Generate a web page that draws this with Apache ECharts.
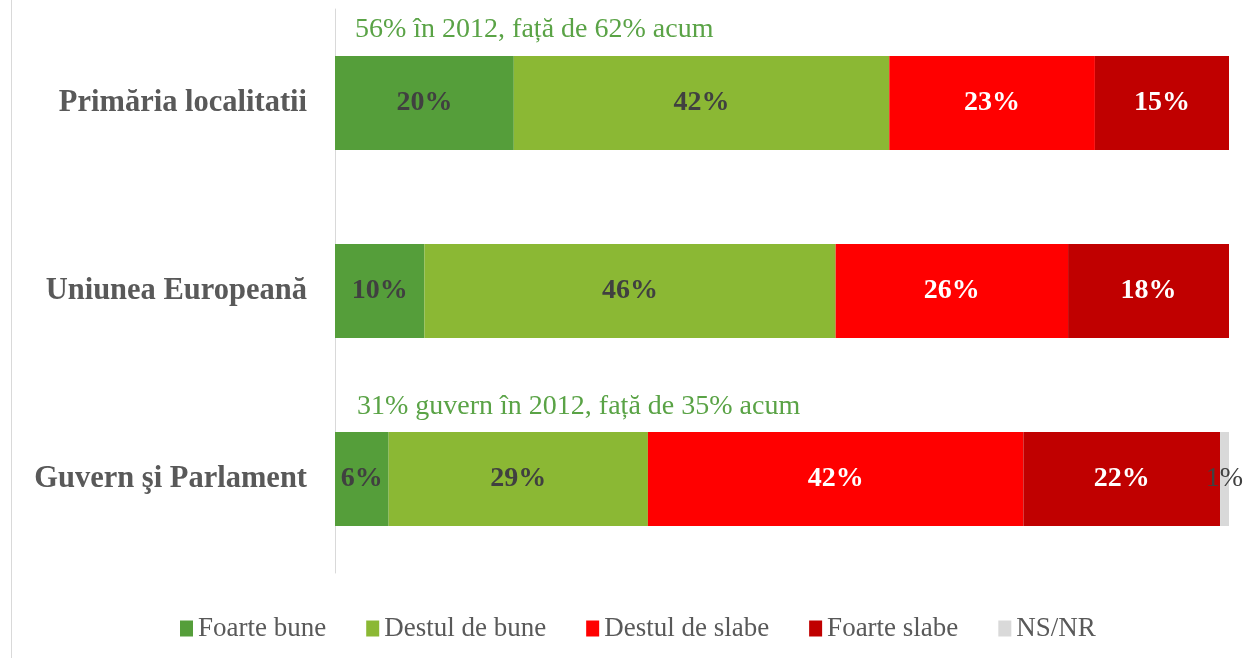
<!DOCTYPE html>
<html><head><meta charset="utf-8">
<script src="https://cdn.jsdelivr.net/npm/echarts@6/dist/echarts.min.js"></script>
<style>html,body{margin:0;padding:0;background:#fff}#c{width:1248px;height:658px}</style>
</head><body><div id="c"></div>
<script>
const categories = ['Primăria localitatii', 'Uniunea Europeană', 'Guvern şi Parlament'];
const seriesNames = ['Foarte bune', 'Destul de bune', 'Destul de slabe', 'Foarte slabe', 'NS/NR'];
const foarteBune = [20, 10, 6];
const destulBune = [42, 46, 29];
const destulSlabe = [23, 26, 42];
const foarteSlabe = [15, 18, 22];
const nsnr = [0, 0, 1];
const annotations = ['56% în 2012, față de 62% acum', '', '31% guvern în 2012, față de 35% acum'];

const colors = ['#559e3a', '#8bb834', '#ff0000', '#c00000', '#d9d9d9'];
const labelColors = ['#404040', '#404040', '#ffffff', '#ffffff', '#404040'];
const labelWeights = ['bold', 'bold', 'bold', 'bold', 'normal'];
const values = [foarteBune, destulBune, destulSlabe, foarteSlabe, nsnr];
const FONT = '"Liberation Serif", "DejaVu Serif", serif';

const chart = echarts.init(document.getElementById('c'), null, {renderer: 'canvas'});
const option = {
  animation: false,
  textStyle: {fontFamily: FONT},
  grid: {left: 335, right: 19, top: 9, bottom: 85, containLabel: false},
  xAxis: {type: 'value', min: 0, max: 100, show: false},
  yAxis: {
    type: 'category', data: categories, inverse: true,
    axisLine: {show: true, lineStyle: {color: '#d9d9d9', width: 1}},
    axisTick: {show: false},
    axisLabel: {margin: 28, fontSize: 30.5, fontWeight: 'bold', color: '#595959', fontFamily: FONT}
  },
  legend: {
    bottom: 11, left: 175, icon: 'rect', itemWidth: 13, itemHeight: 16, itemGap: 40,
    textStyle: {fontSize: 27, color: '#595959', fontFamily: FONT, padding: [0, 0, 0, 0]},
    data: seriesNames
  },
  series: seriesNames.map((n, i) => ({
    name: n, type: 'bar', stack: 'all', barWidth: '50%',
    itemStyle: {color: colors[i]},
    data: values[i].map(v => v === 0 ? null : v),
    label: {
      show: true, position: 'inside', formatter: p => p.value + '%',
      fontSize: 28, fontWeight: labelWeights[i], color: labelColors[i], fontFamily: FONT
    }
  }))
};
chart.setOption(option);

const graphics = [{type: 'line', shape: {x1: 11.5, y1: 0, x2: 11.5, y2: 658}, style: {stroke: '#d9d9d9', lineWidth: 1}}];
const annOffsets = [-87, 0, -86];
annotations.forEach((t, i) => {
  if (!t) return;
  const yc = chart.convertToPixel({yAxisIndex: 0}, categories[i]);
  graphics.push({
    type: 'text', left: i === 0 ? 355 : 357, top: yc + annOffsets[i],
    style: {text: t, fontSize: 28, fill: '#5aa346', fontFamily: FONT}
  });
});
chart.setOption({graphic: graphics});
</script></body></html>
